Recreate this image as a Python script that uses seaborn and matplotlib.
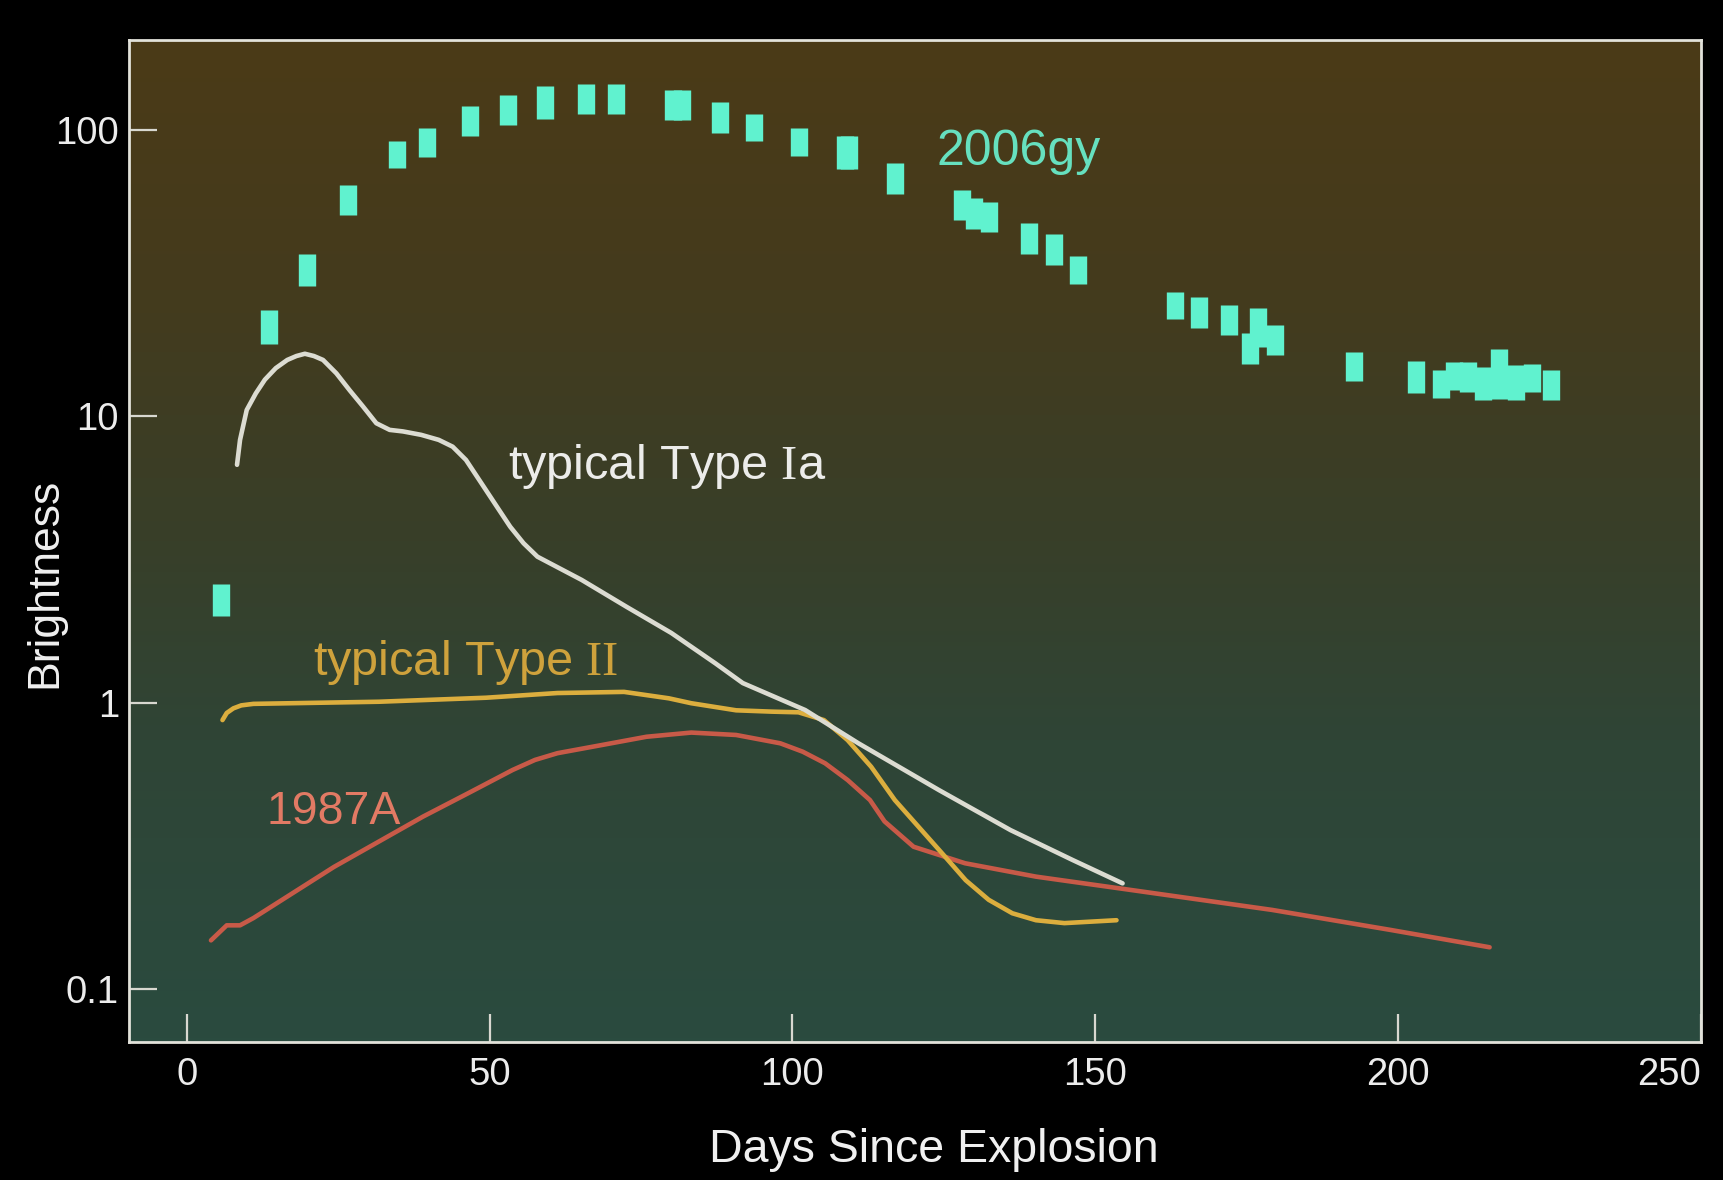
import numpy as np
import matplotlib
matplotlib.use("Agg")
import matplotlib.pyplot as plt
import seaborn as sns
from matplotlib.colors import LinearSegmentedColormap
from matplotlib.ticker import NullLocator

# --- SN 2006gy photometry: day, brightness, half-height of error box (dex)
gy_day = [5.6, 13.6, 19.9, 26.6, 34.7, 39.7, 46.7, 53.0, 59.1, 65.9, 70.9,
          80.3, 81.7, 88.0, 93.6, 101.1, 108.7, 109.3, 116.9,
          128.0, 129.9, 132.5, 139.0, 143.1, 147.1,
          163.2, 167.1, 172.1, 175.6, 176.9, 179.7, 192.7,
          203.0, 207.1, 209.3, 211.5, 214.0, 216.6, 219.4, 222.1, 225.3]
gy_bright = [2.28, 20.5, 32.3, 56.8, 81.6, 89.9, 107.2, 117.1, 124.0, 128.0, 128.0,
             122.0, 122.0, 110.0, 101.6, 90.8, 83.4, 83.4, 67.5,
             54.6, 50.9, 49.6, 41.7, 38.1, 32.4,
             24.4, 23.0, 21.7, 17.2, 20.4, 18.4, 14.9,
             13.7, 12.9, 13.8, 13.7, 13.0, 14.0, 13.1, 13.6, 12.8]
gy_err_dex = [0.057, 0.059, 0.055, 0.052, 0.047, 0.051, 0.052, 0.052, 0.057, 0.052, 0.052,
              0.053, 0.053, 0.053, 0.048, 0.049, 0.058, 0.058, 0.054,
              0.052, 0.054, 0.052, 0.054, 0.054, 0.049,
              0.047, 0.055, 0.052, 0.055, 0.067, 0.052, 0.052,
              0.055, 0.049, 0.049, 0.052, 0.058, 0.088, 0.061, 0.049, 0.052]

# --- typical Type Ia light curve
ia_day = [8.3, 8.8, 9.9, 11.4, 12.9, 14.7, 16.6, 18.1, 19.5, 21.0, 22.5, 24.7,
          26.9, 29.1, 31.3, 33.5, 35.7, 38.7, 41.6, 43.9, 46.1, 49.0, 51.2, 53.4,
          55.6, 57.9, 65.2, 72.6, 80.0, 87.3, 91.8, 102.1, 110.9, 124.2, 136.0,
          146.3, 154.5]
ia_bright = [6.76, 8.26, 10.5, 12.0, 13.4, 14.7, 15.7, 16.2, 16.5, 16.2, 15.7, 14.1,
             12.3, 10.8, 9.44, 8.95, 8.84, 8.60, 8.26, 7.82, 7.03, 5.68, 4.83, 4.11,
             3.60, 3.23, 2.68, 2.16, 1.75, 1.37, 1.17, 0.942, 0.721, 0.495, 0.359,
             0.282, 0.234]

# --- typical Type II light curve
ii_day = [5.9, 6.6, 7.7, 9.0, 11.0, 31.7, 49.4, 61.2, 72.2, 79.6, 83.3, 90.7,
          96.6, 101.0, 105.2, 109.1, 113.0, 116.9, 120.8, 124.7, 128.6, 132.4,
          136.3, 140.2, 144.9, 153.5]
ii_bright = [0.869, 0.92, 0.955, 0.978, 0.99, 1.007, 1.04, 1.08, 1.09, 1.035, 0.995,
             0.94, 0.93, 0.925, 0.869, 0.74, 0.597, 0.457, 0.369, 0.298, 0.240,
             0.205, 0.184, 0.174, 0.170, 0.174]

# --- SN 1987A light curve
sn87_day = [4.0, 6.6, 8.8, 11.0, 24.3, 39.0, 46.4, 53.8, 57.5, 61.2, 68.5, 75.9,
            83.3, 90.7, 98.0, 101.7, 105.4, 109.1, 112.8, 115.2, 120.0, 128.5,
            140.2, 155.8, 179.2, 198.7, 215.1]
sn87_bright = [0.148, 0.167, 0.167, 0.177, 0.267, 0.400, 0.482, 0.582, 0.631, 0.666,
               0.711, 0.760, 0.786, 0.771, 0.721, 0.674, 0.614, 0.537, 0.457, 0.385,
               0.314, 0.275, 0.247, 0.222, 0.189, 0.161, 0.140]

x_ticks = [0, 50, 100, 150, 200, 250]
x_tick_labels = ["0", "50", "100", "150", "200", "250"]
y_ticks = [0.1, 1, 10, 100]
y_tick_labels = ["0.1", "1", "10", "100"]

sns.set_style("ticks")
plt.rcParams['font.family'] = ['Liberation Sans', 'DejaVu Sans']
# roman numerals in the curve labels are set in a serif face
plt.rcParams['mathtext.fontset'] = 'custom'
plt.rcParams['mathtext.rm'] = 'Liberation Serif'

W, H = 1723, 1180
fig = plt.figure(figsize=(W / 100, H / 100), dpi=100, facecolor="black")

left, right, top, bottom = 128.6, 1701.0, 39.6, 1041.8
pos = [left / W, 1 - bottom / H, (right - left) / W, (bottom - top) / H]

# backdrop: brown at the top fading to teal at the bottom
bg = fig.add_axes(pos, zorder=0)
cmap = LinearSegmentedColormap.from_list(
    "backdrop",
    [(0.0, "#2a4b3f"), (0.3, "#2f4536"), (0.5, "#383f29"),
     (0.75, "#443b1d"), (1.0, "#4b3a17")])
grad = np.linspace(0, 1, 256).reshape(-1, 1)
bg.imshow(grad, aspect="auto", cmap=cmap, origin="lower", extent=[0, 1, 0, 1])
bg.set_axis_off()

ax = fig.add_axes(pos, zorder=1)
ax.patch.set_alpha(0)

# 2006gy error boxes
b = np.array(gy_bright)
e = np.array(gy_err_dex)
lower = b - b * 10 ** (-e)
upper = b * 10 ** e - b
ax.errorbar(gy_day, gy_bright, yerr=[lower, upper], fmt="none",
            ecolor="#60f2cf", elinewidth=12.5, capsize=0, zorder=3)

line_kw = dict(ax=ax, sort=False, estimator=None, solid_capstyle="round",
               solid_joinstyle="round", linewidth=3.3)
sns.lineplot(x=sn87_day, y=sn87_bright, color="#c85a48", zorder=2, **line_kw)
sns.lineplot(x=ii_day, y=ii_bright, color="#dcae3e", zorder=2, **line_kw)
sns.lineplot(x=ia_day, y=ia_bright, color="#dcdcd2", zorder=2, **line_kw)

ax.set_yscale("log")
ax.set_xlim(-9.6, 250)
ax.set_ylim(0.0655, 206)

ax.set_xticks(x_ticks, x_tick_labels)
ax.set_yticks(y_ticks, y_tick_labels)
ax.yaxis.set_minor_locator(NullLocator())
ax.tick_params(axis="both", direction="in", length=20, width=1.6,
               color="#d8d8d0", labelcolor="#ececec", labelsize=27.5)
ax.tick_params(axis="x", pad=11)
ax.tick_params(axis="y", pad=7)
ax.get_xticklabels()[-1].set_horizontalalignment("right")

for sp in ax.spines.values():
    sp.set_color("#e2e2da")
    sp.set_linewidth(2.0)

ax.set_xlabel("Days Since Explosion", fontsize=33.5, color="#f0f0f0")
ax.set_ylabel("Brightness", fontsize=32, color="#f0f0f0")
ax.xaxis.set_label_coords(0.512, -0.086)
ax.yaxis.set_label_coords(-0.040, 0.458)

ax.text(137.4, 75.4, "2006gy", fontsize=36, color="#66e0bf",
        ha="center", va="baseline")
ax.text(53.0, 6.03, r"typical Type $\mathrm{I}$a", fontsize=35, color="#ececea",
        ha="left", va="baseline")
ax.text(20.9, 1.25, r"typical Type $\mathrm{II}$", fontsize=35, color="#cfa23c",
        ha="left", va="baseline")
ax.text(13.2, 0.377, "1987A", fontsize=33.5, color="#e27a64",
        ha="left", va="baseline")

fig.savefig("out.png", dpi=100, facecolor="black")
